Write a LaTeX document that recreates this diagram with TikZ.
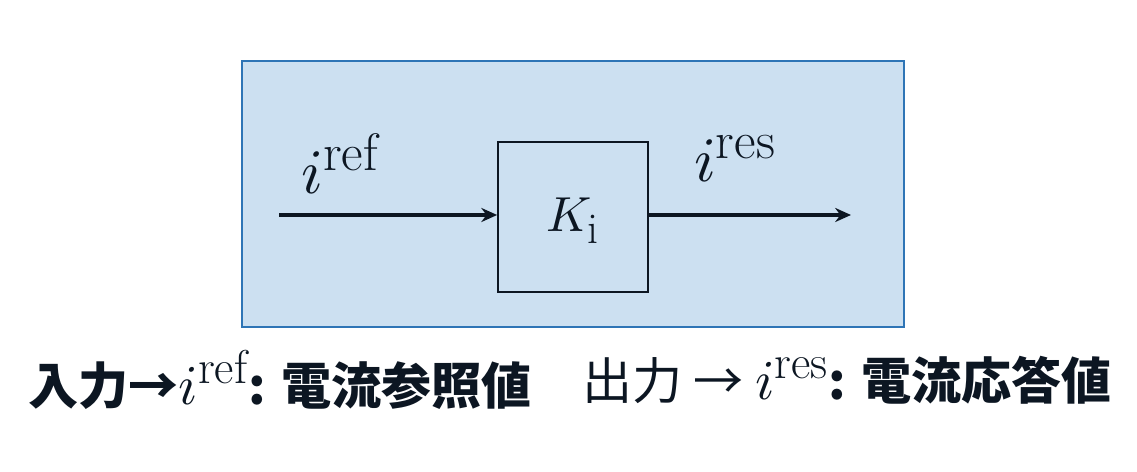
\documentclass[tikz,border=0pt]{standalone}
\usepackage{fontspec}
\usepackage{unicode-math}
\setmathfont{Latin Modern Math}
\newfontfamily\cjk{Noto Sans CJK JP}
\definecolor{panelfill}{RGB}{204,224,241}
\definecolor{paneldraw}{RGB}{46,117,182}
\definecolor{ink}{RGB}{12,22,34}
\usepackage{tikz}
\usetikzlibrary{arrows.meta,positioning}
% current with an upright tag, the tag set a bit larger than TeX's script size
\newcommand{\curr}[3]{{\fontsize{#1}{40}\selectfont$i^{\text{\fontsize{#2}{30}\selectfont\rmfamily\mdseries #3}}$}}

\begin{document}
\begin{tikzpicture}[x=0.02cm,y=0.02cm,every node/.style={inner sep=0pt,text=ink}]
            \useasboundingbox (0,0) rectangle (1137,472);

            \draw[draw=paneldraw,fill=panelfill,line width=1pt] (242,145) rectangle (904,411);

            \node[draw=ink,line width=1pt,minimum size=3cm] (ki) at (573,255) {};
            \node[below=2.2pt of ki.center,anchor=center] (kilabel) {\fontsize{28}{34}\selectfont $K_{\text{\fontsize{25}{28}\selectfont i}}$};
            \coordinate (in) at (279,257);
            \coordinate (out) at (851,257);

            \draw[draw=ink,line width=2pt,-{Stealth[length=9pt,width=8pt]}] (in) to (in -| ki.west);
            \draw[draw=ink,line width=2pt,-{Stealth[length=9pt,width=8pt]}] (out -| ki.east) to (out);

            \node (lref) at (340,308) {\curr{36}{30}{ref}};
            \node (lres) at (735,313) {\curr{36}{30}{res}};

            % legend under the panel
            \node (capin) at (280,92) {\fontsize{28.5}{32}\selectfont\cjk\bfseries 入力→\curr{32}{27}{ref}: 電流参照値};
            \node (capout) at (847,92) {\fontsize{28.5}{32}\selectfont\cjk 出力 → \curr{32}{27}{res}{\bfseries : 電流応答値}};
        \end{tikzpicture}
\end{document}
